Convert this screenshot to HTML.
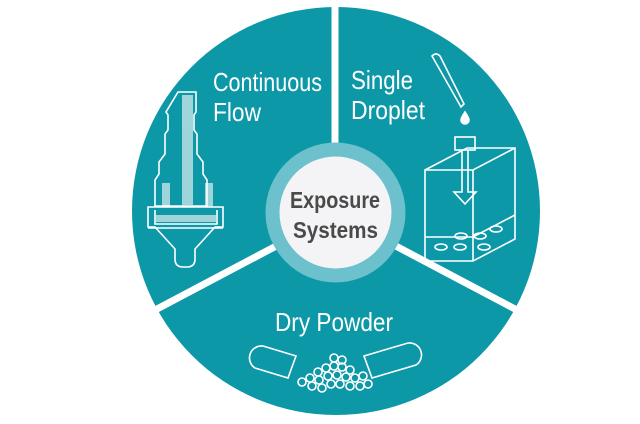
<!DOCTYPE html>
<html><head><meta charset="utf-8"><style>
html,body{margin:0;padding:0;background:#fff;}
svg{display:block}
</style></head><body>
<svg width="640" height="424" viewBox="0 0 640 424" xmlns="http://www.w3.org/2000/svg">
<circle cx="336" cy="211" r="204" fill="#0d98a7"/>
<g stroke="#fff" stroke-width="7">
<line x1="335" y1="0" x2="335" y2="150"/>
<line x1="280" y1="244" x2="140" y2="318"/>
<line x1="392" y1="244" x2="532" y2="318"/>
</g>
<circle cx="335.5" cy="212.5" r="70" fill="#6cc1cd"/>
<circle cx="335.5" cy="212.5" r="56" fill="#f4f4f6"/>
<g font-family="Liberation Sans, sans-serif" fill="#fff" font-size="26">
<text x="213" y="91" textLength="109" lengthAdjust="spacingAndGlyphs">Continuous</text>
<text x="213" y="121" textLength="48" lengthAdjust="spacingAndGlyphs">Flow</text>
<text x="351" y="89" textLength="62" lengthAdjust="spacingAndGlyphs">Single</text>
<text x="351" y="119" textLength="74" lengthAdjust="spacingAndGlyphs">Droplet</text>
<text x="275" y="331" textLength="118" lengthAdjust="spacingAndGlyphs">Dry Powder</text>
</g>
<g font-family="Liberation Sans, sans-serif" fill="#4a4a4a" font-size="23" font-weight="bold">
<text x="290" y="208" textLength="90" lengthAdjust="spacingAndGlyphs">Exposure</text>
<text x="293" y="238" textLength="85" lengthAdjust="spacingAndGlyphs">Systems</text>
</g>
<!-- continuous flow icon -->
<g fill="none" stroke="#fff" stroke-width="1.6">
<path d="M178 92 h18 v20 l-2 3 v15 l3 4 v20 l6 8 v12 l4 6 v26 h-52 v-26 l4-6 v-12 l6-8 v-20 l3-4 v-15 l-2-3 z"/>
<path d="M148 207 h75 v20 h-8 l-20 22 v10 q0 8 -8 8 h-4 q-8 0 -8 -8 v-10 l-20 -22 h-7 z"/>
<line x1="148" y1="228" x2="223" y2="228"/>
<path d="M155 210 v14 h62 v-14"/>
</g>
<g fill="#fff" opacity="0.6">
<rect x="182" y="95" width="11" height="110"/>
<rect x="162" y="183" width="8" height="24"/>
<rect x="205" y="183" width="8" height="24"/>
<rect x="156" y="215" width="60" height="7"/>
</g>
<!-- single droplet icon -->
<g fill="none" stroke="#fff" stroke-width="1.6">
<path d="M432 56 q4 -4 8 0 l24 48 l-3 3 z"/>
<path d="M465 112 q-4 6 -4 8 a4 4 0 0 0 8 0 q0 -2 -4 -8 z" fill="#fff"/>
<rect x="455" y="137" width="20" height="13"/>
<path d="M425 170 l42 -22 h48 v91 l-42 22 h-48 z"/>
<path d="M425 170 h48 l42 -22 M473 170 v91"/>
<path d="M425 237 h48 l42 -22"/>
<path d="M462 150 v42 h-8 l11 12 l11 -12 h-8 v-42"/>
<ellipse cx="441" cy="247" rx="6" ry="3"/><ellipse cx="460" cy="247" rx="6" ry="3"/>
<ellipse cx="461" cy="236" rx="6" ry="3"/><ellipse cx="480" cy="236" rx="6" ry="3"/>
<ellipse cx="496" cy="229" rx="6" ry="3"/><ellipse cx="484" cy="247" rx="6" ry="3"/>
</g>
<!-- dry powder icon -->
<g fill="none" stroke="#fff" stroke-width="1.6">
<path d="M296 356 l-33 -10 a12 12 0 0 0 -8 22 l33 10 z"/>
<path d="M364 356 l44 -13 a12 12 0 0 1 8 22 l-44 13 z"/>
<circle cx="318" cy="372" r="4"/><circle cx="326" cy="368" r="4"/><circle cx="334" cy="366" r="4"/><circle cx="342" cy="367" r="4"/><circle cx="350" cy="370" r="4"/>
<circle cx="310" cy="378" r="4"/><circle cx="319" cy="380" r="4"/><circle cx="328" cy="376" r="4"/><circle cx="337" cy="375" r="4"/><circle cx="346" cy="377" r="4"/><circle cx="355" cy="378" r="4"/><circle cx="363" cy="376" r="4"/>
<circle cx="302" cy="382" r="4"/><circle cx="312" cy="386" r="4"/><circle cx="322" cy="388" r="4"/><circle cx="331" cy="384" r="4"/><circle cx="340" cy="384" r="4"/><circle cx="350" cy="386" r="4"/><circle cx="360" cy="386" r="4"/><circle cx="368" cy="384" r="4"/>
<circle cx="334" cy="358" r="4"/><circle cx="342" cy="360" r="4"/>
</g>
</svg>
</body></html>
